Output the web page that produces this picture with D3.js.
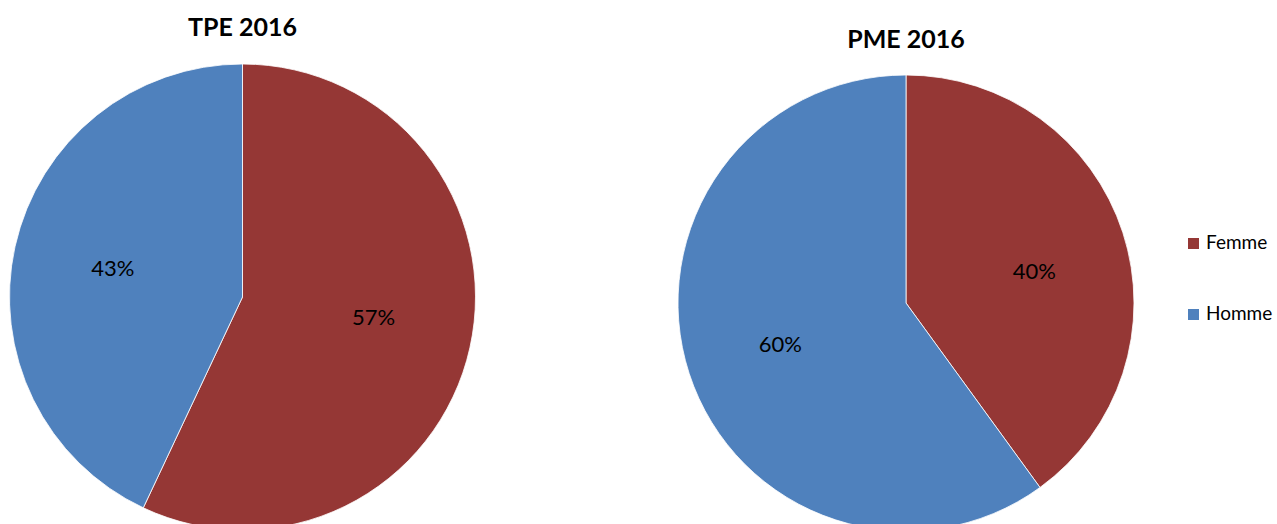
<!DOCTYPE html>
<html>
<head>
<meta charset="utf-8">
<script src="https://cdnjs.cloudflare.com/ajax/libs/d3/7.8.5/d3.min.js"></script>
<style>
  body { margin: 0; background: #fff; }
  text { font-family: Lato, "Noto Sans", sans-serif; fill: #000; }
</style>
</head>
<body>
<div id="chart"></div>
<script>
// data
var categories = ["Femme", "Homme"];
var colors = ["#953735", "#4f81bd"];
var tpeValues = [57, 43];
var pmeValues = [40, 60];
var titles = ["TPE 2016", "PME 2016"];

var svgWidth = 1277;
var svgHeight = 524;

var svg = d3.select("#chart")
  .append("svg")
  .attr("width", svgWidth)
  .attr("height", svgHeight);

// layout for each pie (labelTurn nudges the first slice's label, radians)
var pies = [
  { title: titles[0], values: tpeValues, cx: 242.5, cy: 297, r: 233, titleY: 36, labelR: 0.57, labelTurn: -0.063 },
  { title: titles[1], values: pmeValues, cx: 906, cy: 303, r: 228, titleY: 48, labelR: 0.58, labelTurn: 0.07 }
];

var pie = d3.pie().sort(null).value(d => d);
var color = d3.scaleOrdinal().domain(categories).range(colors);

pies.forEach(function(p) {
  var g = svg.append("g")
    .attr("transform", `translate(${p.cx}, ${p.cy})`);

  var arc = d3.arc().innerRadius(0).outerRadius(p.r);
  var arcs = pie(p.values);

  g.selectAll("path")
    .data(arcs)
    .enter()
    .append("path")
    .attr("d", arc)
    .attr("fill", (d, i) => color(categories[i]))
    .attr("stroke", "#fff")
    .attr("stroke-width", 0.8);

  g.selectAll(".lbl")
    .data(arcs)
    .enter()
    .append("text")
    .attr("class", "lbl")
    .attr("transform", function(d, i) {
      var a = (d.startAngle + d.endAngle) / 2 + (i === 0 ? p.labelTurn : 0);
      var rr = p.r * p.labelR;
      return `translate(${Math.sin(a) * rr}, ${-Math.cos(a) * rr})`;
    })
    .attr("text-anchor", "middle")
    .attr("dy", "0.35em")
    .attr("font-size", "22px")
    .text(d => d.data + "%");

  svg.append("text")
    .attr("x", p.cx)
    .attr("y", p.titleY)
    .attr("text-anchor", "middle")
    .attr("font-size", "25px")
    .attr("font-weight", "bold")
    .text(p.title);
});

// legend
var legend = svg.selectAll(".legend")
  .data(categories)
  .enter()
  .append("g")
  .attr("class", "legend")
  .attr("transform", (d, i) => `translate(1188, ${238 + i * 71})`);

legend.append("rect")
  .attr("width", 11)
  .attr("height", 11)
  .attr("fill", d => color(d));

legend.append("text")
  .attr("x", 18)
  .attr("y", 11)
  .attr("font-size", "19px")
  .text(d => d);
</script>
</body>
</html>
